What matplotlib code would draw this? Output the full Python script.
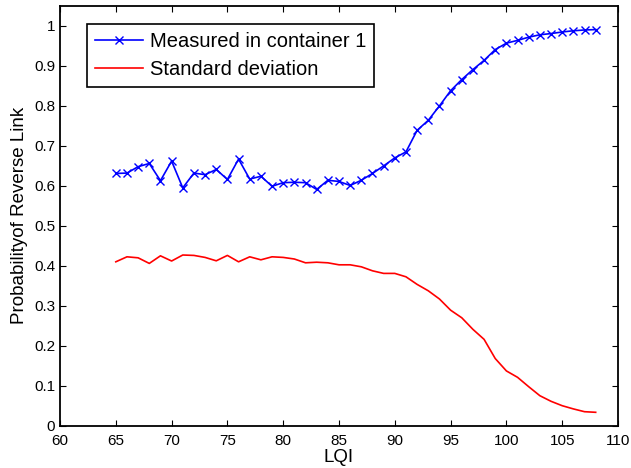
import matplotlib.pyplot as plt

plt.rcParams['font.family'] = ['Liberation Sans', 'DejaVu Sans']

lqi = list(range(65, 109))

measured = [0.631, 0.632, 0.648, 0.656, 0.613, 0.662, 0.595, 0.632, 0.628, 0.641,
            0.616, 0.667, 0.617, 0.624, 0.599, 0.608, 0.609, 0.608, 0.591, 0.614,
            0.611, 0.601, 0.614, 0.631, 0.650, 0.670, 0.685, 0.739, 0.764, 0.800,
            0.838, 0.866, 0.891, 0.914, 0.941, 0.957, 0.964, 0.972, 0.978, 0.981,
            0.985, 0.988, 0.990, 0.991]

std_dev = [0.410, 0.4225, 0.420, 0.406, 0.425, 0.412, 0.427, 0.426, 0.421, 0.4125,
           0.426, 0.410, 0.4225, 0.415, 0.4225, 0.421, 0.417, 0.4075, 0.409, 0.4075,
           0.4025, 0.4025, 0.3975, 0.3875, 0.381, 0.381, 0.3725, 0.3535, 0.3375, 0.317,
           0.289, 0.270, 0.241, 0.216, 0.168, 0.137, 0.121, 0.0975, 0.075, 0.061,
           0.050, 0.042, 0.035, 0.0335]

fig = plt.figure(figsize=(6.31, 4.68), dpi=100)
ax = fig.add_axes([0.0951, 0.0904, 0.8843, 0.8968])

ax.plot(lqi, measured, color='blue', marker='x', markersize=6, linewidth=1.2,
        label='Measured in container 1')
ax.plot(lqi, std_dev, color='red', linewidth=1.2, label='Standard deviation')

ax.set_xlim(60, 110)
ax.set_ylim(0, 1.05)
ax.set_xticks(range(60, 111, 5))
ax.set_yticks([0, 0.1, 0.2, 0.3, 0.4, 0.5, 0.6, 0.7, 0.8, 0.9, 1])
ax.set_yticklabels(['0', '0.1', '0.2', '0.3', '0.4', '0.5', '0.6', '0.7', '0.8', '0.9', '1'])
ax.tick_params(direction='in', top=True, right=True, labelsize=11, length=4)
ax.tick_params(axis='x', pad=6)
for s in ax.spines.values():
    s.set_linewidth(1.3)
ax.set_xlabel('LQI', fontsize=13.5, labelpad=1)
ax.set_ylabel('Probabilityof Reverse Link', fontsize=13.5, labelpad=4)

leg = ax.legend(loc='upper left', bbox_to_anchor=(0.0485, 0.957), fontsize=14.5,
                fancybox=False, edgecolor='black', framealpha=1,
                borderaxespad=0, handlelength=2.4, borderpad=0.4, labelspacing=0.45,
                handletextpad=0.3)
leg.get_frame().set_linewidth(1.2)

fig.savefig('out.png', dpi=100)
